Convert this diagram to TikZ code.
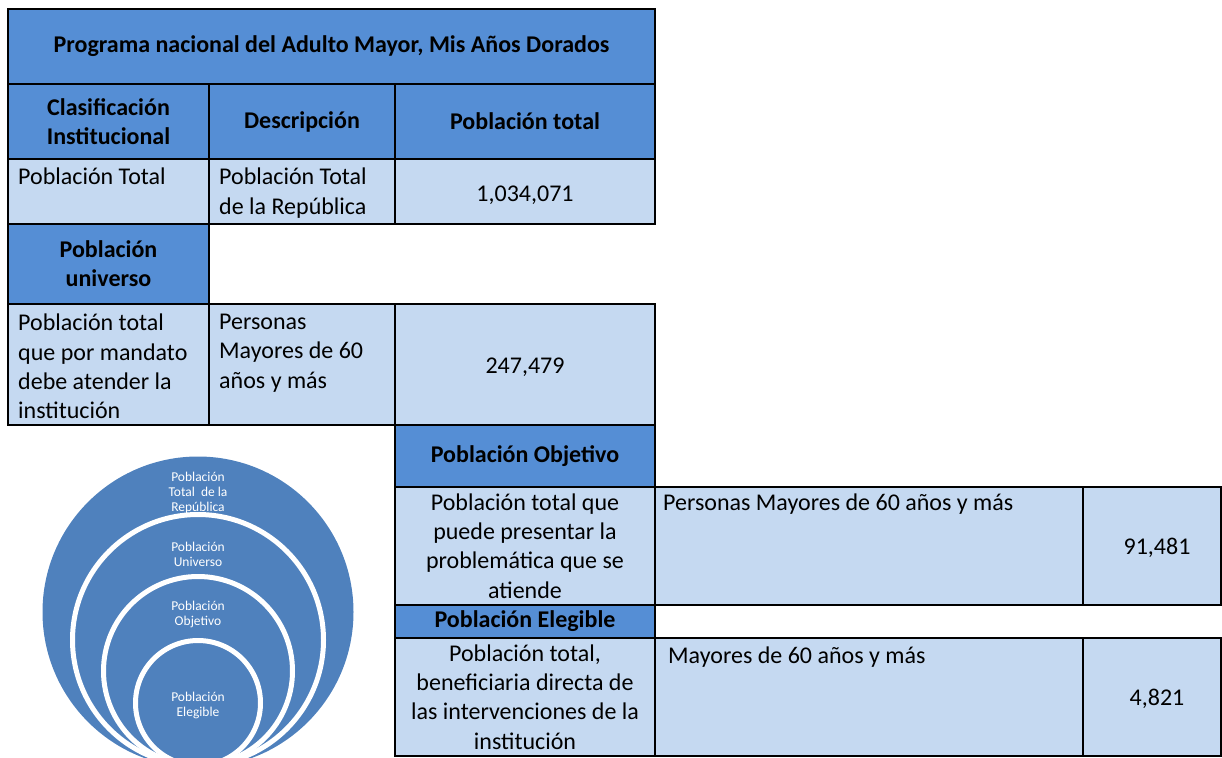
\documentclass[tikz,border=0pt]{standalone}
\usepackage{fontspec}
\setmainfont{Carlito}
\usetikzlibrary{positioning}
\definecolor{headblue}{RGB}{85,142,213}
\definecolor{cellblue}{RGB}{197,217,241}
\definecolor{ringblue}{RGB}{79,129,189}
\tikzstyle{head} = [rectangle, draw=black, line width=2pt, fill=headblue, outer sep=0pt, inner sep=0pt, anchor=north west, align=center, font=\fontsize{24}{29.3}\selectfont\bfseries]
\tikzstyle{cell} = [rectangle, draw=black, line width=2pt, fill=cellblue, outer sep=0pt, inner sep=0pt, anchor=north west, align=center, font=\fontsize{24}{29.3}\selectfont]
\tikzstyle{txt} = [inner sep=0pt, anchor=north west, align=left, font=\fontsize{24}{29.3}\selectfont, execute at begin node=\rule{0pt}{15pt}]
\tikzstyle{num} = [inner sep=0pt, font=\fontsize{24}{29.3}\selectfont]
\tikzstyle{ring} = [circle, fill=ringblue, draw=white, line width=5pt, inner sep=0pt]
\tikzstyle{ctxt} = [text=white, align=center, inner sep=0pt, font=\fontsize{13.5}{15}\selectfont]
\begin{document}
\begin{tikzpicture}[x=1pt, y=-1pt]
\useasboundingbox (0,0) rectangle (1222,757);

% Title and headers
\node (title) [head, minimum width=647pt, minimum height=75pt] at (8,9) {Programa nacional del Adulto Mayor, Mis Años Dorados};
\node (hclas) [head, minimum width=201pt, minimum height=75pt] at (8,84) {Clasificación\\Institucional};
\node (hdesc) [head, minimum width=186pt, minimum height=75pt] at (209,84) {Descripción};
\node (htot) [head, minimum width=260pt, minimum height=75pt] at (395,84) {Población total};

% Poblacion total
\node (r1a) [cell, minimum width=201pt, minimum height=65pt] at (8,159) {};
\node (r1b) [cell, minimum width=186pt, minimum height=65pt] at (209,159) {};
\node (r1c) [cell, minimum width=260pt, minimum height=65pt] at (395,159) {};
\node (t1a) [txt] at ([shift={(10pt,-9pt)}]r1a.north west) {Población Total};
\node (t1b) [txt] at ([shift={(10pt,-9pt)}]r1b.north west) {Población Total\\de la República};
\node (n1) [num] at ([shift={(0pt,-4pt)}]r1c.center) {1,034,071};

% Poblacion universo
\node (huni) [head, minimum width=201pt, minimum height=80pt] at (8,224) {Población\\universo};
\node (r2a) [cell, minimum width=201pt, minimum height=121pt] at (8,304) {};
\node (r2b) [cell, minimum width=186pt, minimum height=121pt] at (209,304) {};
\node (r2c) [cell, minimum width=260pt, minimum height=121pt] at (395,304) {};
\node (t2a) [txt] at ([shift={(10pt,-10pt)}]r2a.north west) {Población total\\que por mandato\\debe atender la\\institución};
\node (t2b) [txt] at ([shift={(10pt,-10pt)}]r2b.north west) {Personas\\Mayores de 60\\años y más};
\node (n2) [num] at ([shift={(0pt,-3pt)}]r2c.center) {247,479};

% Poblacion objetivo
\node (hobj) [head, minimum width=260pt, minimum height=62pt] at (395,425) {Población Objetivo};
\node (r3a) [cell, minimum width=260pt, minimum height=118pt] at (395,487) {Población total que\\puede presentar la\\problemática que se\\atiende};
\node (r3b) [cell, minimum width=428pt, minimum height=118pt] at (655,487) {};
\node (r3c) [cell, minimum width=138pt, minimum height=118pt] at (1083,487) {};
\node (t3b) [txt] at ([shift={(8pt,-7pt)}]r3b.north west) {Personas Mayores de 60 años y más};
\node (n3) [num] at ([shift={(5pt,-2pt)}]r3c.center) {91,481};

% Poblacion elegible
\node (hele) [head, minimum width=260pt, minimum height=33pt] at (395,605) {Población Elegible};
\node (r4a) [cell, minimum width=260pt, minimum height=118pt] at (395,638) {Población total,\\beneficiaria directa de\\las intervenciones de la\\institución};
\node (r4b) [cell, minimum width=428pt, minimum height=118pt] at (655,638) {};
\node (r4c) [cell, minimum width=138pt, minimum height=118pt] at (1083,638) {};
\node (t4b) [txt] at ([shift={(13pt,-9pt)}]r4b.north west) {Mayores de 60 años y más};
\node (n4) [num] at ([shift={(5pt,-2pt)}]r4c.center) {4,821};

% Nested circles
\begin{scope}
\clip (0,0) rectangle (1222,757);
\node (c1) [ring, draw=none, minimum size=311pt] at (198,612) {};
\node (c2) [ring, minimum size=251pt] at (198,640) {};
\node (c3) [ring, minimum size=189pt] at (198,671) {};
\node (c4) [ring, minimum size=125pt] at (198,703) {};
\end{scope}
\node (l1) [ctxt] at (198,493) {Población\\Total~ de la\\República};
\node (l2) [ctxt] at (198,554) {Población\\Universo};
\node (l3) [ctxt] at (198,614.5) {Población\\Objetivo};
\node (l4) [ctxt] at (198,705.5) {Población\\Elegible};

\end{tikzpicture}
\end{document}
